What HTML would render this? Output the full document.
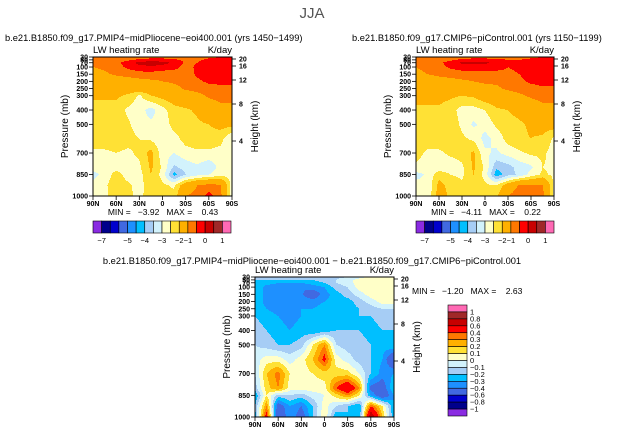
<!DOCTYPE html>
<html><head><meta charset="utf-8"><style>
body{margin:0;background:#fff}
svg text{font-family:"Liberation Sans",sans-serif;white-space:pre}
</style></head><body>
<svg id="fig" width="624" height="435" viewBox="0 0 624 435" xmlns="http://www.w3.org/2000/svg">
<rect width="624" height="435" fill="#fff"/>
<text x="312" y="18" font-size="15" fill="#555" text-anchor="middle">JJA</text>
<text x="5" y="41" font-size="9.3" fill="#000">b.e21.B1850.f09_g17.PMIP4−midPliocene−eoi400.001 (yrs 1450−1499)</text>
<text x="352" y="41" font-size="9.3" fill="#000">b.e21.B1850.f09_g17.CMIP6−piControl.001 (yrs 1150−1199)</text>
<text x="312" y="264" font-size="9.3" fill="#000" text-anchor="middle">b.e21.B1850.f09_g17.PMIP4−midPliocene−eoi400.001 − b.e21.B1850.f09_g17.CMIP6−piControl.001</text>
<g id="root"></g>
</svg>
<script>
const lats = [90,75,60,45,30,15,0,-15,-30,-45,-60,-75,-90];
const levels = [30,50,70,100,150,200,250,300,400,500,600,700,800,850,925,1000];
const field1 = [
[-0.8,-0.8,-0.8,-0.8,-0.7,-0.7,-0.7,-0.8,-0.8,-0.7,-0.6,-0.5,-0.5],
[-0.8,-0.8,-0.7,-0.6,-0.4,-0.3,-0.3,-0.4,-0.6,-0.6,-0.4,-0.3,-0.3],
[-0.9,-0.8,-0.6,-0.3,0.2,0.3,0.2,-0.1,-0.6,-0.5,-0.2,-0.2,-0.2],
[-1.0,-0.9,-0.7,-0.4,-0.2,-0.1,-0.2,-0.3,-0.7,-0.4,-0.2,-0.2,-0.2],
[-1.2,-1.1,-0.9,-0.8,-0.7,-0.7,-0.8,-0.8,-0.8,-0.4,-0.3,-0.3,-0.3],
[-1.5,-1.5,-1.4,-1.3,-1.2,-1.1,-1.0,-0.9,-0.8,-0.6,-0.4,-0.4,-0.4],
[-1.7,-1.7,-1.7,-1.6,-1.5,-1.5,-1.4,-1.2,-0.9,-0.8,-0.7,-0.6,-0.6],
[-1.9,-1.9,-1.9,-2.1,-2.6,-2.0,-1.8,-1.6,-1.4,-1.2,-0.9,-0.8,-0.8],
[-2.2,-2.2,-2.2,-2.6,-2.8,-3.2,-2.7,-2.2,-2.1,-1.9,-1.5,-1.2,-1.2],
[-2.2,-2.2,-2.2,-2.4,-2.8,-2.9,-2.8,-2.3,-2.2,-2.1,-2.0,-1.8,-1.8],
[-2.2,-2.2,-2.2,-2.3,-2.5,-2.6,-2.9,-2.7,-2.3,-2.2,-2.2,-2.3,-3.0],
[-2.6,-2.6,-2.5,-2.6,-2.4,-1.8,-2.8,-3.0,-2.7,-2.6,-2.6,-2.7,-2.8],
[-2.8,-2.7,-2.7,-2.7,-2.6,-1.9,-2.6,-3.6,-3.3,-3.1,-3.4,-2.8,-2.7],
[-3.2,-2.8,-2.3,-2.7,-2.7,-2.0,-2.7,-4.2,-3.5,-3.2,-3.0,-2.7,-2.7],
[-2.8,-2.6,-2.2,-2.4,-2.7,-2.2,-2.4,-2.6,-1.5,-1.0,-0.8,-0.9,-2.8],
[-2.7,-2.6,-2.3,-2.4,-2.6,-2.3,-2.3,-2.3,-1.0,-0.8,-0.3,-0.8,-2.8]];
const field2 = [
[-0.8,-0.8,-0.8,-0.8,-0.7,-0.7,-0.7,-0.7,-0.7,-0.7,-0.6,-0.5,-0.5],
[-0.8,-0.8,-0.7,-0.6,-0.4,-0.3,-0.3,-0.4,-0.5,-0.5,-0.4,-0.3,-0.3],
[-0.9,-0.8,-0.6,-0.3,0.1,0.2,0.1,-0.1,-0.5,-0.4,-0.3,-0.2,-0.2],
[-1.0,-0.9,-0.7,-0.4,-0.3,-0.3,-0.3,-0.3,-0.5,-0.4,-0.3,-0.2,-0.2],
[-1.1,-1.0,-0.9,-0.8,-0.7,-0.7,-0.7,-0.7,-0.6,-0.5,-0.3,-0.3,-0.3],
[-1.3,-1.3,-1.2,-1.2,-1.1,-1.0,-0.9,-0.9,-0.8,-0.6,-0.4,-0.3,-0.3],
[-1.5,-1.5,-1.5,-1.5,-1.4,-1.3,-1.2,-1.1,-0.9,-0.8,-0.7,-0.6,-0.6],
[-1.8,-1.8,-1.8,-1.9,-2.0,-1.9,-1.6,-1.5,-1.3,-1.1,-0.9,-0.8,-0.8],
[-2.1,-2.1,-2.1,-2.3,-2.7,-2.7,-2.5,-2.1,-2.0,-1.8,-1.5,-1.2,-1.2],
[-2.1,-2.1,-2.1,-2.2,-2.6,-3.1,-2.8,-2.4,-2.2,-2.1,-1.9,-1.7,-1.7],
[-2.2,-2.2,-2.2,-2.2,-2.4,-2.6,-3.2,-2.8,-2.3,-2.1,-2.0,-2.1,-2.6],
[-2.3,-2.6,-2.6,-2.4,-2.3,-1.9,-2.9,-3.1,-2.8,-2.6,-2.4,-2.4,-2.7],
[-2.6,-2.8,-2.8,-2.8,-2.6,-1.9,-2.6,-3.9,-3.7,-3.3,-3.1,-2.5,-2.6],
[-3.2,-2.9,-2.2,-2.5,-2.6,-2.0,-2.7,-4.3,-3.7,-3.4,-2.8,-2.4,-2.6],
[-2.8,-2.9,-1.8,-2.2,-2.4,-2.1,-2.4,-2.5,-1.6,-0.9,-1.0,-0.9,-2.6],
[-2.6,-2.9,-1.7,-2.1,-2.2,-2.2,-2.3,-2.1,-1.0,-0.6,-0.9,-0.8,-2.6]];
const field3 = [
[-0.15,-0.15,-0.15,-0.15,-0.15,-0.15,-0.15,-0.12,-0.1,-0.05,0.05,0.05,0.05],
[-0.2,-0.2,-0.2,-0.2,-0.2,-0.2,-0.15,-0.1,-0.05,0.05,0.05,0.05,0.05],
[-0.2,-0.25,-0.3,-0.3,-0.3,-0.25,-0.2,-0.1,-0.05,0.05,0.05,0.05,0.05],
[-0.2,-0.35,-0.35,-0.35,-0.4,-0.35,-0.3,-0.15,-0.1,0.05,0.05,0.05,0.05],
[-0.2,-0.35,-0.38,-0.38,-0.38,-0.5,-0.35,-0.25,-0.15,-0.05,0.05,0.05,0.05],
[-0.2,-0.35,-0.38,-0.38,-0.35,-0.35,-0.3,-0.25,-0.25,-0.15,-0.05,0.05,0.05],
[-0.2,-0.3,-0.35,-0.35,-0.3,-0.3,-0.25,-0.3,-0.25,-0.2,-0.15,-0.1,-0.1],
[-0.2,-0.25,-0.3,-0.35,-0.3,-0.25,-0.3,-0.3,-0.25,-0.2,-0.2,-0.15,-0.15],
[-0.15,-0.2,-0.25,-0.3,-0.25,-0.3,-0.25,-0.2,-0.2,-0.2,-0.25,-0.2,-0.2],
[-0.1,-0.15,-0.2,-0.2,-0.15,0.1,0.3,-0.1,-0.15,-0.15,-0.2,-0.25,-0.2],
[-0.05,0.05,0.05,-0.05,0.05,0.2,0.45,0.05,-0.05,-0.15,-0.2,-0.3,-0.6],
[-0.1,0.2,0.35,0.1,0.05,0.1,0.15,0.15,0.15,0.0,-0.2,-0.35,-0.3],
[-0.15,0.15,0.3,0.05,0.05,0.05,0.05,0.4,0.6,0.3,-0.45,-0.5,-0.2],
[-0.3,0.1,-0.15,-0.1,-0.15,-0.05,0.0,0.15,0.3,0.1,-0.3,-0.55,-0.3],
[-0.2,0.3,-0.5,-0.3,-0.4,-0.2,0.05,-0.1,-0.2,-0.3,0.4,0.1,-0.3],
[-0.25,0.5,-0.6,-0.3,-0.5,-0.2,0.1,-0.3,-0.2,-0.3,0.8,0.2,-0.3]];
const bounds1 = [-7,-6.3,-5.6,-5,-4.5,-4,-3.5,-3,-2.5,-2,-1,-0.5,0,0.5,1];
const bounds3 = [-1,-0.8,-0.6,-0.4,-0.3,-0.2,-0.1,0,0.1,0.2,0.3,0.4,0.6,0.8,1];
const cbLabels1 = ["−7","−5","−4","−3","−2","−1","0","1"];
const cbLabelIdx1 = [1,4,6,8,10,11,13,15];
const cbLabels3 = ["1","0.8","0.6","0.4","0.3","0.2","0.1","0","−0.1","−0.2","−0.3","−0.4","−0.6","−0.8","−1"];
const presTicks = [30,50,70,100,150,200,250,300,400,500,700,850,1000];
const latTicks = [90,60,30,0,-30,-60,-90];
const latTickLabels = ["90N","60N","30N","0","30S","60S","90S"];
const kmTicks = ["20","16","12","8","4"];
const kmOffsets = [2,9,23,47,84];
const colors = ["#8a2be2","#00008b","#0000cd","#4169e1","#1e90ff","#00bfff","#a6cdf5","#d2f2fc","#ffffc8","#ffe135","#ffb000","#ff7800","#ff0000","#c80000","#a02828","#ff69b4"];

const NS="http://www.w3.org/2000/svg";
const root=document.getElementById('root');
function mk(tag,attrs,parent){const e=document.createElementNS(NS,tag);for(const k in attrs)e.setAttribute(k,attrs[k]);(parent||root).appendChild(e);return e;}
function txt(s,attrs,parent){const e=mk('text',attrs,parent);e.textContent=s;return e;}
function classify(v,b){let i=0;while(i<b.length&&v>=b[i])i++;return i;}
function sample(field,lat,p){
  let fi=(90-lat)/15; fi=Math.max(0,Math.min(12,fi));
  let i0=Math.min(11,Math.floor(fi)), tx=fi-i0;
  let j0=0; while(j0<levels.length-2&&p>levels[j0+1])j0++;
  let ty=(p-levels[j0])/(levels[j0+1]-levels[j0]); ty=Math.max(0,Math.min(1,ty));
  const a=field[j0][i0],b=field[j0][i0+1],c=field[j0+1][i0],d=field[j0+1][i0+1];
  return (a*(1-tx)+b*tx)*(1-ty)+(c*(1-tx)+d*tx)*ty;
}
function panel(id,x0,y0,w,h,field,bounds){
  const g=mk('g',{});
  
  
  const xS=lat=>x0+(90-lat)/180*w;
  const yS=p=>y0+(p-30)/970*h;
  for(let py=0;py<h;py++){
    const p=30+(py+0.5)/h*970;
    let runStart=0,runC=-1;
    for(let px=0;px<=w;px++){
      let c=-2;
      if(px<w){const lat=90-(px+0.5)/w*180;c=classify(sample(field,lat,p),bounds);}
      if(c!==runC){
        if(runC>=0){const r=mk('rect',{x:x0+runStart,y:y0+py,width:px-runStart+0.4,height:1.4,fill:colors[runC]},g);
          
          }
        runStart=px;runC=c;
      }
    }
  }
  const fr=mk('rect',{x:x0,y:y0,width:w,height:h,fill:'none',stroke:'#000','stroke-width':1},g);
  
  
  presTicks.forEach(p=>{
    const y=yS(p);
    mk('line',{x1:x0-4,x2:x0,y1:y,y2:y,stroke:'#000','stroke-width':0.8},g);
    const t=txt(String(p),{x:x0-5,y:y+2.5,'font-size':7,'font-weight':'bold','text-anchor':'end'},g);
    
    
  });
  latTicks.forEach((l,i)=>{
    const x=xS(l);
    mk('line',{x1:x,x2:x,y1:y0+h,y2:y0+h+4,stroke:'#000','stroke-width':0.8},g);
    const t=txt(latTickLabels[i],{x:x,y:y0+h+10,'font-size':7,'font-weight':'bold','text-anchor':'middle'},g);
    
    
  });
  kmTicks.forEach((k,i)=>{
    const y=y0+kmOffsets[i];
    mk('line',{x1:x0+w,x2:x0+w+4,y1:y,y2:y,stroke:'#000','stroke-width':0.8},g);
    const t=txt(k,{x:x0+w+7,y:y+2.5,'font-size':7,'font-weight':'bold'},g);
    
    
  });
  const a=txt('Pressure (mb)',{x:0,y:0,'font-size':10,'text-anchor':'middle',transform:`translate(${x0-25},${y0+h/2}) rotate(-90)`},g);
  
  
  const b=txt('Height (km)',{x:0,y:0,'font-size':10,'text-anchor':'middle',transform:`translate(${x0+w+26},${y0+h/2}) rotate(-90)`},g);
  
  
  const c=txt('LW heating rate',{x:x0,y:y0-4,'font-size':9.5},g);
  
  
  const d=txt('K/day',{x:x0+w,y:y0-4,'font-size':9.5,'text-anchor':'end'},g);
  
  
}
function hbar(id,x0,y0,w,h){
  const g=mk('g',{});
  
  
  const bw=w/16;
  colors.forEach((c,i)=>{const r=mk('rect',{x:x0+i*bw,y:y0,width:bw,height:h,fill:c,stroke:'#000','stroke-width':0.6},g);
    
    });
  cbLabels1.forEach((s,i)=>{const t=txt(s,{x:x0+cbLabelIdx1[i]*bw,y:y0+h+10,'font-size':7.5,'text-anchor':'middle'},g);
    
    });
}
function vbar(id,x0,y0,w,h){
  const g=mk('g',{});
  
  
  const bh=h/16;
  colors.slice().reverse().forEach((c,i)=>{const r=mk('rect',{x:x0,y:y0+i*bh,width:w,height:bh,fill:c,stroke:'#000','stroke-width':0.6},g);
    
    });
  cbLabels3.forEach((s,i)=>{const t=txt(s,{x:x0+w+3,y:y0+(i+1)*bh+2.5,'font-size':7.5},g);
    
    });
}
function stat(s,x,y,anchor){const t=txt(s,{x:x,y:y,'font-size':8.5,'text-anchor':anchor});
  
  }

panel('midpliocene',93,57,139,139,field1,bounds1);
panel('picontrol',416,57,138,139,field2,bounds1);
panel('difference',255,277,139,140,field3,bounds3);
hbar('colorbar-1',93,221,138,12);
hbar('colorbar-2',416,221,138,12);
vbar('colorbar-3',448,305,19,111);
stat('MIN =   −3.92   MAX =    0.43',163,215,'middle');
stat('MIN =   −4.11   MAX =    0.22',486,215,'middle');
stat('MIN =   −1.20   MAX =    2.63',412,294,'start');
</script>
</body></html>
